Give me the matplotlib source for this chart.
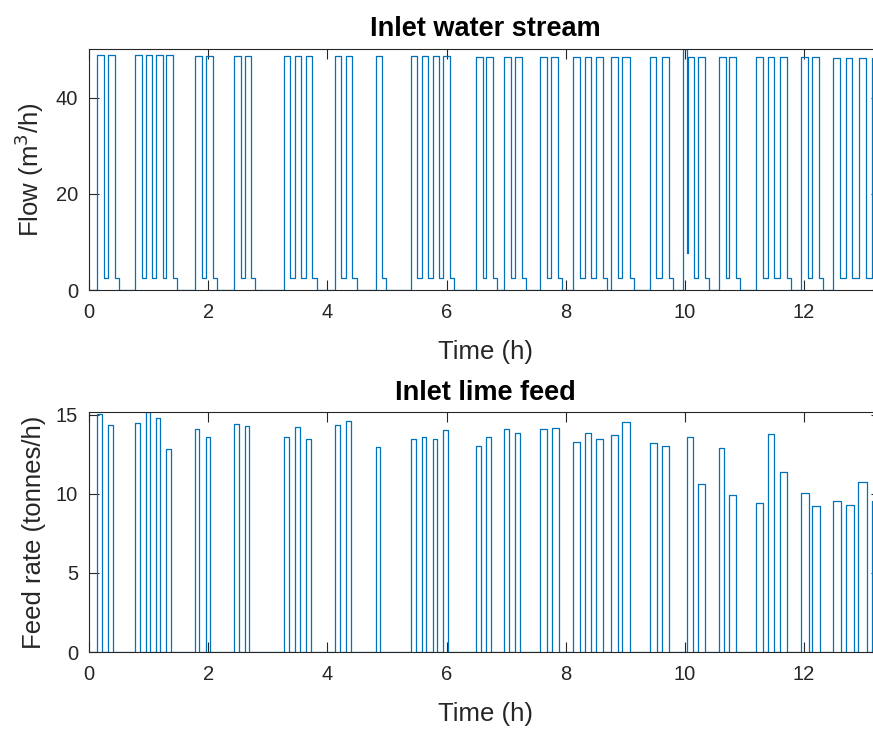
import matplotlib
matplotlib.use("Agg")
import matplotlib.pyplot as plt

plt.rcParams['font.family'] = ['Liberation Sans', 'DejaVu Sans']

# ---------------- data ----------------
# Inlet water stream pulses (hours, m3/h)
water_on = [0.14, 0.32, 0.77, 0.95, 1.12, 1.30, 1.78, 1.96, 2.43, 2.61,
            3.27, 3.46, 3.64, 4.12, 4.31, 4.82, 5.40, 5.58, 5.77, 5.94,
            6.49, 6.67, 6.97, 7.15, 7.57, 7.76, 8.13, 8.32, 8.51, 8.76, 8.95,
            9.42, 9.61, 9.97, 10.05, 10.22, 10.57, 10.74, 11.20, 11.39, 11.59,
            11.95, 12.14, 12.49, 12.70, 12.92, 13.14]
water_off = [0.25, 0.43, 0.89, 1.06, 1.24, 1.41, 1.89, 2.08, 2.55, 2.72,
             3.38, 3.56, 3.75, 4.23, 4.41, 4.92, 5.51, 5.69, 5.88, 6.06,
             6.61, 6.78, 7.08, 7.26, 7.69, 7.87, 8.24, 8.43, 8.62, 8.87, 9.07,
             9.52, 9.73, 10.03, 10.15, 10.33, 10.69, 10.86, 11.31, 11.49, 11.71,
             12.06, 12.25, 12.60, 12.81, 13.04, 13.40]
water_tail_end = [0.32, 0.50, 0.95, 1.12, 1.30, 1.48, 1.96, 2.14, 2.61, 2.79,
                  3.46, 3.64, 3.83, 4.31, 4.49, 4.99, 5.58, 5.77, 5.94, 6.12,
                  6.67, 6.85, 7.15, 7.33, 7.76, 7.94, 8.32, 8.51, 8.69, 8.95, 9.14,
                  9.61, 9.80, 10.05, 10.22, 10.40, 10.74, 10.92, 11.39, 11.59, 11.78,
                  12.14, 12.32, 12.70, 12.92, 13.14, 13.40]
water_peak = [48.8, 48.8, 48.8, 48.8, 48.8, 48.8, 48.7, 48.7, 48.7, 48.7,
              48.7, 48.7, 48.7, 48.7, 48.7, 48.6, 48.6, 48.6, 48.6, 48.6,
              48.5, 48.5, 48.5, 48.5, 48.5, 48.5, 48.5, 48.5, 48.5, 48.5, 48.5,
              48.4, 48.4, 50.1, 48.4, 48.4, 48.4, 48.4, 48.4, 48.4, 48.4,
              48.4, 48.4, 48.3, 48.3, 48.3, 48.3]
water_tail_level = [2.4] * 33 + [7.7] + [2.4] * 13

# Inlet lime feed pulses (hours, tonnes/h)
lime_on = [0.14, 0.32, 0.77, 0.95, 1.12, 1.30, 1.78, 1.96, 2.43, 2.61,
           3.27, 3.45, 3.64, 4.12, 4.31, 4.82, 5.40, 5.58, 5.77, 5.94,
           6.49, 6.67, 6.97, 7.15, 7.57, 7.77, 8.13, 8.32, 8.51, 8.76, 8.95,
           9.42, 9.61, 10.04, 10.22, 10.57, 10.74, 11.19, 11.39, 11.59,
           11.95, 12.14, 12.49, 12.70, 12.91, 13.14]
lime_off = [0.22, 0.40, 0.85, 1.02, 1.19, 1.37, 1.85, 2.03, 2.51, 2.68,
            3.35, 3.54, 3.73, 4.21, 4.39, 4.89, 5.49, 5.66, 5.84, 6.02,
            6.57, 6.75, 7.05, 7.24, 7.69, 7.88, 8.24, 8.43, 8.62, 8.87, 9.07,
            9.53, 9.73, 10.14, 10.33, 10.66, 10.86, 11.31, 11.49, 11.71,
            12.08, 12.27, 12.62, 12.83, 13.05, 13.40]
lime_rate = [15.06, 14.37, 14.47, 15.17, 14.77, 12.85, 14.09, 13.56, 14.39, 14.28,
             13.61, 14.24, 13.44, 14.32, 14.62, 12.95, 13.46, 13.56, 13.48, 14.01,
             13.04, 13.61, 14.11, 13.84, 14.09, 14.13, 13.29, 13.86, 13.44, 13.69, 14.51,
             13.21, 13.04, 13.56, 10.65, 12.89, 9.92, 9.39, 13.75, 11.35,
             10.08, 9.24, 9.54, 9.28, 10.74, 9.56]

x_ticks = [0, 2, 4, 6, 8, 10, 12]
water_yticks = [0, 20, 40]
lime_yticks = [0, 5, 10, 15]
t_max = 13.29


def build_steps(on, off, level, tail_end=None, tail_level=None):
    t, y = [0.0], [0.0]
    n = len(on)
    for i in range(n):
        t += [on[i], off[i]]
        if tail_end is not None:
            y += [level[i], tail_level[i]]
            if i + 1 < n and tail_end[i] >= on[i + 1]:
                continue
            t.append(tail_end[i])
            y.append(0.0)
        else:
            y += [level[i], 0.0]
    t.append(t_max + 1)
    y.append(y[-1])
    return t, y


line_color = '#0072BD'
axis_color = '#262626'

fig = plt.figure(figsize=(8.73, 7.31), dpi=100)
W, H = 873, 731
left = 89 / W
width = (881 - 89) / W
ax1 = fig.add_axes([left, 1 - 290 / H, width, (290 - 49) / H])
ax2 = fig.add_axes([left, 1 - 652 / H, width, (652 - 412) / H])

tw, yw = build_steps(water_on, water_off, water_peak, water_tail_end, water_tail_level)
ax1.step(tw, yw, where='post', color=line_color, lw=0.9)
tl, yl = build_steps(lime_on, lime_off, lime_rate)
ax2.step(tl, yl, where='post', color=line_color, lw=0.9)

for ax, yt, ylim, title, ylabel in [
        (ax1, water_yticks, (0, 50.1), 'Inlet water stream', 'Flow (m$^3$/h)'),
        (ax2, lime_yticks, (0, 15.17), 'Inlet lime feed', 'Feed rate (tonnes/h)')]:
    ax.set_xlim(0, t_max)
    ax.set_ylim(*ylim)
    ax.set_xticks(x_ticks)
    ax.set_yticks(yt)
    ax.tick_params(direction='in', length=7, width=0.8, colors=axis_color,
                   labelsize=14.5, top=True, right=True)
    ax.tick_params(axis='x', pad=9)
    ax.tick_params(axis='y', pad=8)
    for s in ax.spines.values():
        s.set_color(axis_color)
        s.set_linewidth(0.8)
    ax.set_title(title, fontsize=19.5, fontweight='bold', color='black', pad=9)
    ax.set_xlabel('Time (h)', fontsize=18.5, color=axis_color, labelpad=13)
    ax.set_ylabel(ylabel, fontsize=18.5, color=axis_color, labelpad=7)

fig.savefig('out.png', dpi=100)
